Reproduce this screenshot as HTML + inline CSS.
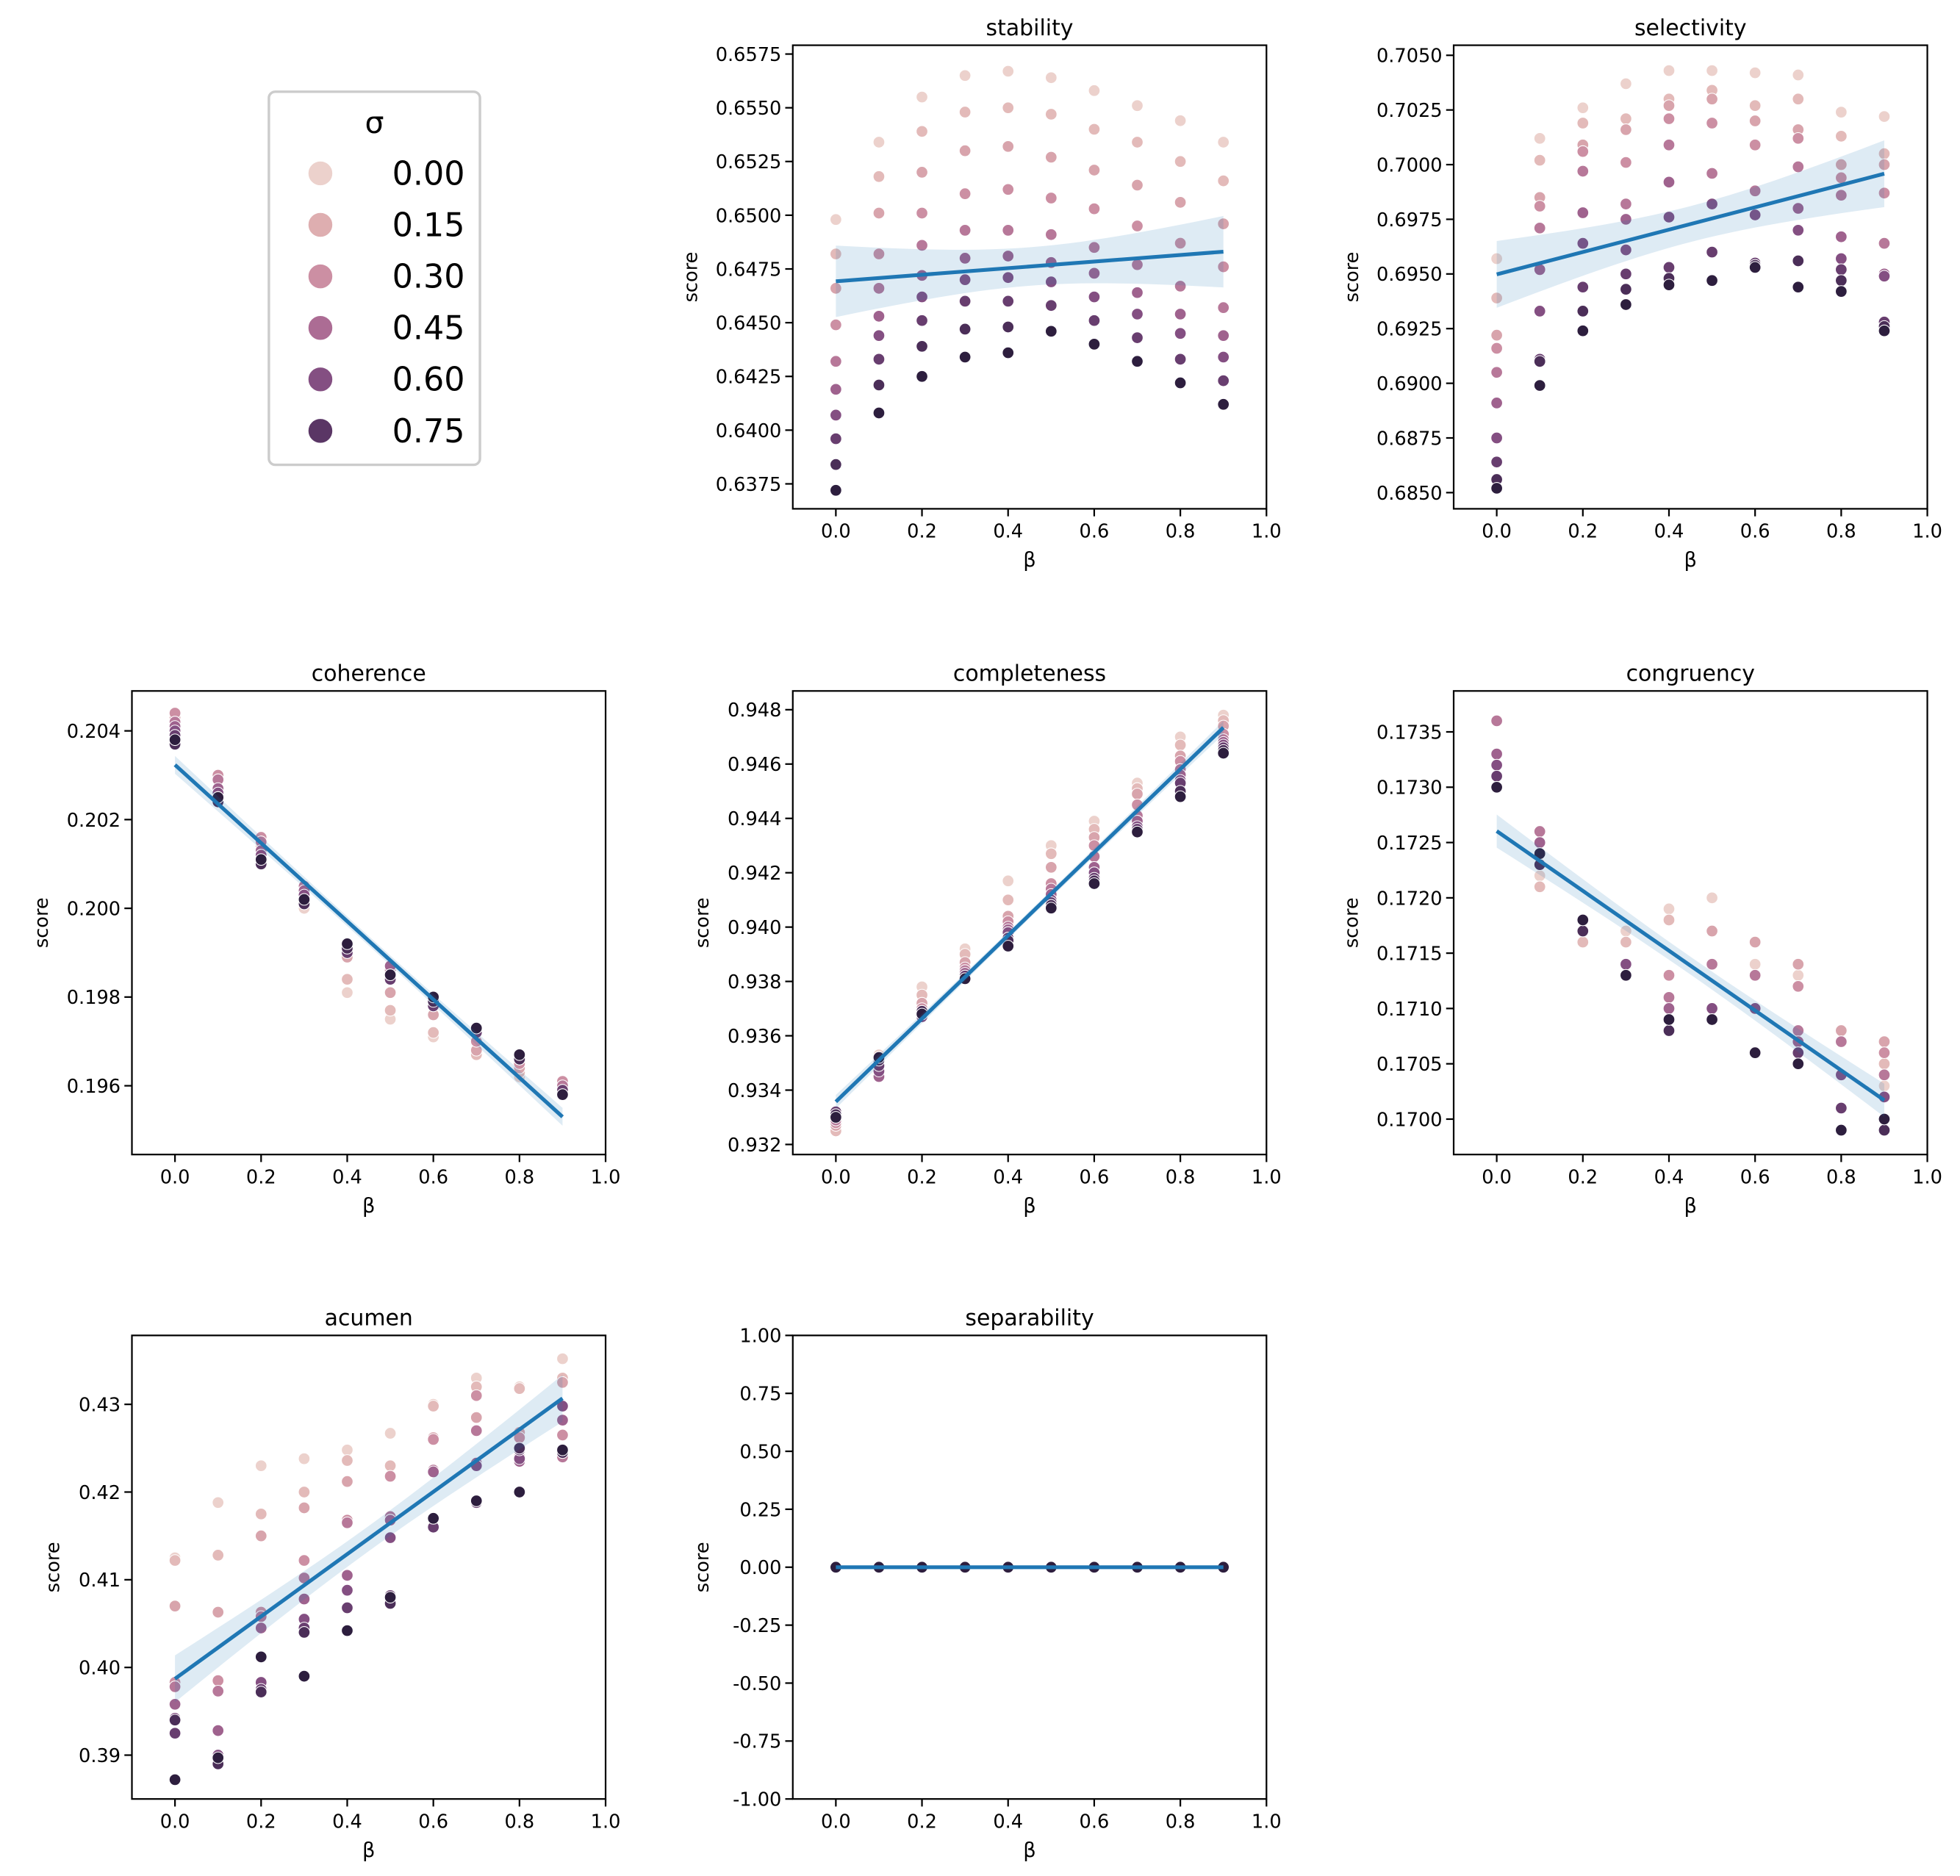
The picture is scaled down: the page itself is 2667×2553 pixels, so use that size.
<!DOCTYPE html>
<html><head><meta charset="utf-8"><style>
html,body{margin:0;padding:0;background:#fff}
svg{display:block}
text{font-family:"DejaVu Sans","Liberation Sans",sans-serif;fill:#000}
</style></head><body>
<svg id="fig" width="2667" height="2553" viewBox="0 0 1560 1493.3" xmlns="http://www.w3.org/2000/svg">
<rect width="1560" height="1494" fill="#fff"/>
<g>
<rect x="214" y="73" width="168" height="297" rx="5" fill="#fff" stroke="#ccc" stroke-width="2"/>
<text x="298" y="106" font-size="24" text-anchor="middle">σ</text>
</g>
</svg>
<script>
const betas=[0,0.1,0.2,0.3,0.4,0.5,0.6,0.7,0.8,0.9];
const sigmaLevels=[0,0.1,0.2,0.3,0.4,0.5,0.6,0.7,0.8,0.9];
const legendSigmas=[0.00,0.15,0.30,0.45,0.60,0.75];
const stabilityVals=[
[0.6498,0.6482,0.6466,0.6449,0.6432,0.6419,0.6407,0.6396,0.6384,0.6372],
[0.6534,0.6518,0.6501,0.6482,0.6466,0.6453,0.6444,0.6433,0.6421,0.6408],
[0.6555,0.6539,0.6520,0.6501,0.6486,0.6472,0.6462,0.6451,0.6439,0.6425],
[0.6565,0.6548,0.6530,0.6510,0.6493,0.6480,0.6470,0.6460,0.6447,0.6434],
[0.6567,0.6550,0.6532,0.6512,0.6493,0.6481,0.6471,0.6460,0.6448,0.6436],
[0.6564,0.6547,0.6527,0.6508,0.6491,0.6478,0.6469,0.6458,0.6446,0.6446],
[0.6558,0.6540,0.6521,0.6503,0.6485,0.6473,0.6462,0.6451,0.6440,0.6440],
[0.6551,0.6534,0.6514,0.6495,0.6477,0.6464,0.6454,0.6443,0.6432,0.6432],
[0.6544,0.6525,0.6506,0.6487,0.6467,0.6454,0.6445,0.6433,0.6422,0.6422],
[0.6534,0.6516,0.6496,0.6476,0.6457,0.6444,0.6434,0.6423,0.6412,0.6412]];
const selectivityVals=[
[0.6957,0.6939,0.6922,0.6916,0.6905,0.6891,0.6875,0.6864,0.6856,0.6852],
[0.7012,0.7002,0.6985,0.6981,0.6971,0.6952,0.6933,0.6911,0.6910,0.6899],
[0.7026,0.7019,0.7009,0.7006,0.6997,0.6978,0.6964,0.6944,0.6933,0.6924],
[0.7037,0.7021,0.7016,0.7001,0.6982,0.6975,0.6961,0.6950,0.6943,0.6936],
[0.7043,0.7030,0.7027,0.7021,0.7009,0.6992,0.6976,0.6953,0.6948,0.6945],
[0.7043,0.7034,0.7030,0.7019,0.6996,0.6982,0.6982,0.6960,0.6947,0.6947],
[0.7042,0.7027,0.7020,0.7009,0.6988,0.6977,0.6977,0.6955,0.6954,0.6953],
[0.7041,0.7030,0.7016,0.7012,0.6999,0.6980,0.6970,0.6956,0.6956,0.6944],
[0.7024,0.7013,0.7000,0.6994,0.6986,0.6967,0.6957,0.6952,0.6947,0.6942],
[0.7022,0.7005,0.7000,0.6987,0.6964,0.6950,0.6949,0.6928,0.6926,0.6924]];
const coherenceVals=[
[0.2038,0.2040,0.2043,0.2044,0.2042,0.2041,0.2040,0.2039,0.2037,0.2038],
[0.2025,0.2027,0.2030,0.2030,0.2029,0.2027,0.2026,0.2025,0.2024,0.2025],
[0.2013,0.2014,0.2015,0.2016,0.2015,0.2013,0.2012,0.2011,0.2010,0.2011],
[0.2000,0.2001,0.2003,0.2004,0.2005,0.2004,0.2003,0.2002,0.2001,0.2002],
[0.1981,0.1984,0.1989,0.1990,0.1991,0.1991,0.1992,0.1990,0.1991,0.1992],
[0.1975,0.1977,0.1981,0.1984,0.1986,0.1987,0.1985,0.1984,0.1985,0.1985],
[0.1971,0.1972,0.1976,0.1978,0.1979,0.1980,0.1979,0.1978,0.1979,0.1980],
[0.1967,0.1967,0.1968,0.1970,0.1972,0.1972,0.1973,0.1972,0.1973,0.1973],
[0.1962,0.1963,0.1964,0.1965,0.1966,0.1966,0.1967,0.1966,0.1966,0.1967],
[0.1958,0.1959,0.1961,0.1961,0.1960,0.1959,0.1958,0.1959,0.1958,0.1958]];
const completenessVals=[
[0.9326,0.9325,0.9327,0.9328,0.9329,0.9330,0.9331,0.9332,0.9331,0.9330],
[0.9353,0.9352,0.9350,0.9348,0.9346,0.9345,0.9347,0.9349,0.9351,0.9352],
[0.9378,0.9375,0.9372,0.9370,0.9369,0.9368,0.9367,0.9368,0.9369,0.9368],
[0.9392,0.9390,0.9387,0.9385,0.9384,0.9383,0.9382,0.9382,0.9381,0.9381],
[0.9417,0.9410,0.9404,0.9402,0.9400,0.9399,0.9398,0.9396,0.9395,0.9393],
[0.9430,0.9427,0.9422,0.9416,0.9414,0.9412,0.9410,0.9409,0.9408,0.9407],
[0.9439,0.9436,0.9433,0.9430,0.9426,0.9422,0.9420,0.9418,0.9417,0.9416],
[0.9453,0.9451,0.9449,0.9445,0.9441,0.9439,0.9437,0.9436,0.9435,0.9435],
[0.9470,0.9467,0.9463,0.9461,0.9458,0.9456,0.9454,0.9453,0.9450,0.9448],
[0.9478,0.9476,0.9474,0.9471,0.9469,0.9468,0.9467,0.9466,0.9465,0.9464]];
const congruencyVals=[
[0.1731,0.1732,0.1731,0.1733,0.1736,0.1733,0.1732,0.1731,0.1730,0.1730],
[0.1722,0.1721,0.1723,0.1725,0.1726,0.1725,0.1724,0.1724,0.1723,0.1724],
[0.1716,0.1716,0.1717,0.1717,0.1718,0.1718,0.1718,0.1718,0.1717,0.1718],
[0.1717,0.1716,0.1713,0.1713,0.1713,0.1714,0.1714,0.1713,0.1713,0.1713],
[0.1719,0.1718,0.1713,0.1713,0.1711,0.1710,0.1708,0.1709,0.1708,0.1709],
[0.1720,0.1717,0.1717,0.1714,0.1714,0.1710,0.1710,0.1709,0.1709,0.1709],
[0.1714,0.1716,0.1716,0.1713,0.1713,0.1710,0.1710,0.1706,0.1706,0.1706],
[0.1713,0.1714,0.1714,0.1712,0.1708,0.1707,0.1706,0.1706,0.1705,0.1705],
[0.1708,0.1707,0.1708,0.1707,0.1707,0.1704,0.1704,0.1701,0.1699,0.1699],
[0.1703,0.1705,0.1707,0.1706,0.1704,0.1702,0.1702,0.1700,0.1699,0.1700]];
const acumenVals=[
[0.4125,0.4122,0.4070,0.3983,0.3978,0.3958,0.3942,0.3925,0.3940,0.3872],
[0.4188,0.4128,0.4063,0.3985,0.3973,0.3928,0.3900,0.3893,0.3890,0.3897],
[0.4230,0.4175,0.4150,0.4063,0.4058,0.4045,0.3983,0.3975,0.3972,0.4012],
[0.4238,0.4200,0.4182,0.4122,0.4102,0.4078,0.4055,0.4045,0.4040,0.3990],
[0.4248,0.4236,0.4212,0.4168,0.4165,0.4105,0.4088,0.4068,0.4042,0.4042],
[0.4267,0.4230,0.4218,0.4218,0.4172,0.4168,0.4148,0.4082,0.4073,0.4080],
[0.4300,0.4298,0.4262,0.4260,0.4225,0.4223,0.4170,0.4160,0.4170,0.4170],
[0.4330,0.4320,0.4285,0.4310,0.4270,0.4233,0.4230,0.4188,0.4190,0.4190],
[0.4320,0.4318,0.4268,0.4262,0.4240,0.4235,0.4238,0.4248,0.4250,0.4200],
[0.4352,0.4330,0.4325,0.4265,0.4240,0.4282,0.4298,0.4245,0.4245,0.4248]];
const separabilityVals=betas.map(()=>sigmaLevels.map(()=>0));
const xTicks=[0.0,0.2,0.4,0.6,0.8,1.0];
const stabilityTicks=[0.6375,0.6400,0.6425,0.6450,0.6475,0.6500,0.6525,0.6550,0.6575];
const selectivityTicks=[0.6850,0.6875,0.6900,0.6925,0.6950,0.6975,0.7000,0.7025,0.7050];
const coherenceTicks=[0.196,0.198,0.200,0.202,0.204];
const completenessTicks=[0.932,0.934,0.936,0.938,0.940,0.942,0.944,0.946,0.948];
const congruencyTicks=[0.1700,0.1705,0.1710,0.1715,0.1720,0.1725,0.1730,0.1735];
const acumenTicks=[0.39,0.40,0.41,0.42,0.43];
const separabilityTicks=[-1,-0.75,-0.5,-0.25,0,0.25,0.5,0.75,1];

const NS="http://www.w3.org/2000/svg";
const svg=document.getElementById('fig');
function mk(tag,attrs,parent){const e=document.createElementNS(NS,tag);for(const k in attrs)e.setAttribute(k,attrs[k]);(parent||svg).appendChild(e);return e;}
const stops=[[0,[236,209,204]],[0.15,[222,174,176]],[0.30,[204,143,163]],[0.45,[172,108,148]],[0.60,[132,79,130]],[0.75,[90,54,101]],[0.9,[45,30,62]]];
function color(s){for(let i=0;i<stops.length-1;i++){const a=stops[i],b=stops[i+1];if(s<=b[0]){const t=(s-a[0])/(b[0]-a[0]);const c=a[1].map((v,j)=>Math.round(v+(b[1][j]-v)*t));return `rgb(${c})`;}}return 'rgb(45,30,62)';}

legendSigmas.forEach((s,i)=>{
 const y=138+i*41;
 const c=mk('circle',{cx:255,cy:y,r:10,fill:color(s),stroke:'#fff','stroke-width':1});
 
 
 const t=mk('text',{x:370,y:y+9,'font-size':26,'text-anchor':'end'});
 t.textContent=s.toFixed(2);
 
 
});

function panel(name,vals,ticks,ax,ylim,dec){
 const g=mk('g',{});
 
 
 const [L,T,W,H]=ax;
 const xs=v=>L+(v+0.1)/1.1*W;
 const ys=v=>T+H-(v-ylim[0])/(ylim[1]-ylim[0])*H;
 betas.forEach((b,i)=>{vals[i].forEach((v,j)=>{
  const c=mk('circle',{cx:xs(b),cy:ys(v),r:4.6,fill:color(sigmaLevels[j]),stroke:'#fff','stroke-width':0.6},g);
  
  
 });});
 let X=[],Y=[];betas.forEach((b,i)=>vals[i].forEach(v=>{X.push(b);Y.push(v);}));
 const n=X.length,mx=X.reduce((a,b)=>a+b)/n,my=Y.reduce((a,b)=>a+b)/n;
 let sxx=0,sxy=0;X.forEach((x,k)=>{sxx+=(x-mx)**2;sxy+=(x-mx)*(Y[k]-my);});
 const slope=sxy/sxx,ic=my-slope*mx;
 let sse=0;X.forEach((x,k)=>{sse+=(Y[k]-ic-slope*x)**2;});
 const s=Math.sqrt(sse/(n-2));
 let up=[],lo=[];
 for(let k=0;k<=30;k++){const x=0.9*k/30;const f=ic+slope*x;const se=1.98*s*Math.sqrt(1/n+(x-mx)**2/sxx);up.push(xs(x)+','+ys(f+se));lo.unshift(xs(x)+','+ys(f-se));}
 const band=mk('polygon',{points:up.concat(lo).join(' '),fill:'#1f77b4','fill-opacity':0.15},g);
 
 
 const ln=mk('line',{x1:xs(0),y1:ys(ic),x2:xs(0.9),y2:ys(ic+slope*0.9),stroke:'#1f77b4','stroke-width':3},g);
 
 
 const fr=mk('rect',{x:L,y:T,width:W,height:H,fill:'none',stroke:'#000','stroke-width':1.3},g);
 
 
 xTicks.forEach(v=>{
  mk('line',{x1:xs(v),x2:xs(v),y1:T+H,y2:T+H+6,stroke:'#000','stroke-width':1.3},g);
  const t=mk('text',{x:xs(v),y:T+H+23,'font-size':15,'text-anchor':'middle'},g);
  t.textContent=v.toFixed(1);
  
  
 });
 ticks.forEach(v=>{
  mk('line',{x1:L-6,x2:L,y1:ys(v),y2:ys(v),stroke:'#000','stroke-width':1.3},g);
  const t=mk('text',{x:L-9,y:ys(v)+5.5,'font-size':15,'text-anchor':'end'},g);
  t.textContent=v.toFixed(dec);
  
  
 });
 const tt=mk('text',{x:L+W/2,y:T-8,'font-size':17.5,'text-anchor':'middle'},g);
 tt.textContent=name;
 
 
 const xl=mk('text',{x:L+W/2,y:T+H+46,'font-size':16,'text-anchor':'middle'},g);
 xl.textContent='β';
 
 
 const lab=Math.max(...ticks.map(v=>v.toFixed(dec).length));
 const lx=L-9-lab*9.2-12;
 const yl=mk('text',{x:lx,y:T+H/2,'font-size':15,'text-anchor':'middle',transform:`rotate(-90 ${lx} ${T+H/2})`},g);
 yl.textContent='score';
 
 
}
const cols=[105,631,1157],rows=[36,550,1063],W=377,H=369;
panel('stability',stabilityVals,stabilityTicks,[cols[1],rows[0],W,H],[0.63634,0.65791],4);
panel('selectivity',selectivityVals,selectivityTicks,[cols[2],rows[0],W,H],[0.68426,0.70546],4);
panel('coherence',coherenceVals,coherenceTicks,[cols[0],rows[1],W,H],[0.19445,0.2049],3);
panel('completeness',completenessVals,completenessTicks,[cols[1],rows[1],W,H],[0.93163,0.94869],3);
panel('congruency',congruencyVals,congruencyTicks,[cols[2],rows[1],W,H],[0.16968,0.17387],4);
panel('acumen',acumenVals,acumenTicks,[cols[0],rows[2],W,H],[0.385,0.43786],2);
panel('separability',separabilityVals,separabilityTicks,[cols[1],rows[2],W,H],[-1,1],2);
</script>
</body></html>
